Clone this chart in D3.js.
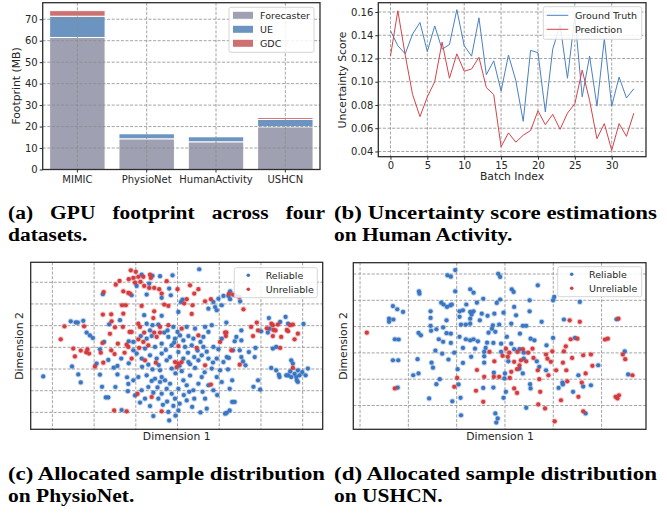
<!DOCTYPE html>
<html>
<head>
<meta charset="utf-8">
<title>Footprint / uncertainty / sample distribution</title>
<style>
  body{ margin:0; background:#fff; }
  svg text{ font-family:"DejaVu Sans",sans-serif; fill:#262626; }
  .grid{ stroke:#8c8c8c; stroke-width:0.8; stroke-dasharray:3,1.6; }
  .cap{ font-family:"Liberation Serif",serif; font-weight:bold; fill:#000 !important; font-size:18.5px; }
</style>
</head>
<body>
<svg id="fig" width="667" height="517"></svg>
<script src="https://cdnjs.cloudflare.com/ajax/libs/d3/7.8.5/d3.min.js"></script>
<script>
// ---------- data (a) ----------
var datasets = ['MIMIC','PhysioNet','HumanActivity','USHCN'];
var parts = ['Forecaster','UE','GDC'];
var forecaster = [61.5, 14.3, 12.9, 19.9];
var ue = [9.9, 2.4, 2.4, 3.4];
var gdc = [2.6, 0.2, 0.2, 0.9];
var footTicks = [0,10,20,30,40,50,60,70];

// ---------- data (b) ----------
var groundTruth = [0.144,0.131,0.124,0.141,0.151,0.126,0.148,0.128,0.132,0.162,0.131,0.122,0.155,0.106,0.118,0.092,
  0.123,0.101,0.066,0.127,0.125,0.074,0.128,0.149,0.103,0.156,0.087,0.122,0.079,0.137,0.079,0.104,0.086,0.094];
var prediction = [0.122,0.161,0.123,0.089,0.070,0.087,0.100,0.134,0.103,0.124,0.109,0.111,0.121,0.095,0.089,0.044,
  0.056,0.048,0.054,0.058,0.075,0.063,0.072,0.059,0.073,0.081,0.110,0.084,0.051,0.064,0.041,0.064,0.053,0.073];
var batchTicks = [0,5,10,15,20,25,30];
var scoreTicks = [0.04,0.06,0.08,0.10,0.12,0.14,0.16];

// ---------- data (c) PhysioNet embedding ----------
var reliableC = [[-17.9,24.5],[-13.8,12.5],[-16.4,10.6],[-25.6,12],[-24.4,11.5],[-23.9,11.4],[-22.6,12.2],[-21.8,6.8],[-21,5.5],[-20.3,4.3],
  [-17.6,2.5],[-11.7,2.8],[-18.6,-0.9],[-13.5,-5.2],[-16.6,-5.8],[-19.4,-7.5],[-14.4,-8.6],[-15.3,-9.4],[-11.7,-7.4],[-25.3,-8.8],
  [-32.2,-13.4],[-23.8,-12.5],[-18.6,-12.6],[-14.4,-12.5],[-12.1,-13.8],[-23.2,-16.2],[-11.8,-16.9],[-18.1,-18.2],[-14.9,-18.3],[-11.9,-20.2],
  [-17.2,-23.1],[-16.6,-23.1],[-13.4,-28.9],
  [-8.6,33.5],[-6,33],[-4.2,32.8],[-1.2,33.2],[5.2,36],[-9.8,28.3],[-6.8,29.4],[-2,27.1],[-1.6,24],[-3.8,22.8],[-11,24],[-7.4,24.3],
  [1.2,22],[0.8,20.9],[8.6,20.9],[9.8,22.4],[11,23.7],[12.2,23.7],[7.4,17.8],[9,18.6],[9.4,17.1],[10.6,19.4],[-8,14.8],[0.2,16.3],[-3.8,14.5],
  [-7.4,10.9],[-6,10.2],[-4.6,10.5],[-1,9.4],[-2.4,7.8],[-6.6,7.8],[-3.2,6.8],[-6.2,5.2],[-10.6,2.5],[-7.4,4],[-8.8,5.2],[-10.6,-1.4],
  [-7.8,-0.6],[-2.2,4.8],[-0.6,4],[0.6,5.5],[1.4,3.2],[2.6,5.2],[3.8,4],[6.2,4.8],[7.4,7.1],[6.6,9.4],[8.2,10.2],[4.2,8.6],[2.2,9.4],
  [0,7.1],[10.6,4],[-3.8,1.7],[-1.4,0.9],[1.8,0.2],[3.4,0.9],[6.2,0.2],[8.6,0.2],[9.8,-0.9],[-5.4,0.2],
  [-9.8,-2.9],[-8.6,-5.2],[-6.6,-3.7],[-5,-5.2],[-3.8,-2.9],[-2.6,-6],[-1.8,-4.5],[1.4,-5.2],[2.6,-6.8],[4,-4.5],[5,-6],[5.8,-3.7],
  [7.4,-5.2],[9.4,-5.2],[11,-6.8],[11.8,-4.5],[-6,-10.2],[-4.2,-10.6],[-1.4,-9.8],[4.2,-9.5],[8.2,-9.8],[10.2,-10.6],
  [-10.6,-15.2],[-9.4,-13.7],[-7.4,-12.9],[-5.4,-14.5],[-3.8,-13.7],[-4.2,-16],[-3,-15.2],[-1.8,-16.8],[-7,-18.3],[-8.6,-19.8],
  [-10.2,-22.2],[-7.8,-23.7],[-5.8,-20.9],[-3.8,-21.4],[-2.6,-19.1],[-1.4,-21.4],[-0.6,-23.7],[0.2,-19.1],[1.4,-15.2],[2.2,-17.5],
  [3.8,-19.8],[5,-16.8],[5.8,-13.7],[7.4,-17.5],[8.6,-19.8],[9.4,-13.7],[10.6,-16],[4,-23.7],[6.6,-23.7],[2.2,-24.5],[-4.6,-23.7],
  [-6.6,-27.1],[0.2,-29.1],[-2.2,-29.8],[-5.8,-31.7],[7,-28.3],[11.4,-30.6],[-2,-33.7],
  [-0.5,-12],[1,-11],[3,-13],[-2.5,-25],[-1,-27],[0.5,-26],[-3.5,-26.5],[1.5,-22],[2.8,-20.5],[-4.8,-18.5],[-6.2,-15.5],[3,-7.8],
  [0.5,-8.5],[-7,-8],[6.5,-11.5],[8.5,-7],[-8.5,-9],[5.5,2.5],[-0.8,2.2],[2.5,-2.5],[-2.8,-1.2],[4.8,-1.5],[7,-2],[0.2,-2.2],
  [-4.5,-8.2],[6,-20.5],[9.5,-22],[-9,-25.5],[3.5,-27.5],[5.5,-30],[-0.5,-31.5],
  [12.6,25.8],[13.9,24],[12.6,22.2],[15,21.2],[11.7,11.4],[15.3,7.8],[14.1,4.8],[13.7,2.8],[15.3,3.2],[13.3,-1.4],[12.3,-4.9],
  [14.9,-1.4],[17.1,-2.2],[15.3,-4.5],[15.7,-6.5],[16.3,-8.3],[18.7,-0.3],[18.5,-4.5],[12.1,-10.2],[13.1,-15.2],[19.3,-15.2],
  [19.8,-19.5],[12.5,-19.1],[13.1,-25.2],[13.7,-25.2],[12.5,-29.1],[18.2,-18.2],[11.8,-30.2],
  [20.05,7.4],[21.9,13.5],[22.05,8.6],[24.6,11.7],[25.9,14],[26.5,10.9],[30.2,10.8],[23.65,0.2],[22.85,-0.6],[21.65,6.8],
  [22.45,-9.5],[23.65,-10.6],[24.45,-13.7],[24.3,-12.6],[26.5,-12.9],[27.25,-6],[27.65,-7.5],[27,-11.1],[28.05,-12.2],[28.85,-10.6],
  [29.25,-12.9],[29.9,-11.4],[30.7,-12.9],[31.25,-9.8],[28.85,-16],[27.25,-13.7],[28.45,-13.7],[28.6,-15.2],[26.05,-12.9]];
var unreliableC = [[-13.9,30.6],[-14.8,28.9],[-13,25.8],[-11.7,31.4],[-11.8,25.1],[-17.7,25.5],[-13.3,19.4],[-12.4,19.4],[-17.9,15.1],
  [-15.9,15.2],[-13,15.5],[-15.8,12],[-15,9.2],[-13.1,9.4],[-11.5,7.1],[-27.1,9.7],[-22.4,9.7],[-28,3.7],[-16.2,6.2],[-18,2],
  [-12.2,1.2],[-14.3,1.7],[-25,-0.6],[-23.2,-1.5],[-21.6,-0.9],[-21.9,-2.3],[-21.2,-2.9],[-24.6,-4.2],[-15.9,-1.4],[-18.4,-2.5],
  [-15.1,-3.1],[-12.7,-2.5],[-17.8,-7.1],[-19.8,-8.8],[-15.2,-29.1],[-12.2,-29.5],
  [-11.2,35.5],[-10,34.8],[-9.4,32.5],[-8.2,32.5],[-10.6,32],[-6.6,33.5],[-6.4,32],[-2.6,30.5],[-10.2,29.8],[-8.9,30.2],[-8,28.3],
  [-6.8,27.4],[-5.6,27.4],[-4.4,26.8],[-3.8,24.8],[-11.4,24.8],[0,26.8],[3,28.6],[5,26.8],[4,24.8],[1.6,20.2],[3.6,19.4],[2.2,22.2],
  [6.6,21.2],[8,22.2],[-8.6,19.1],[-2.2,19.1],[-3.2,19.7],[-5.6,16.6],[3.4,15.4],[-5.8,13.5],
  [-9.4,10.9],[-9,9.4],[-11,7.1],[-4.2,9.4],[-2.2,10.2],[-8,6.8],[-5.6,6.8],[-4.2,6.8],[-5,4.8],[-8.2,2.5],[-9.4,3.7],[-11.8,0.2],
  [-9.2,-0.3],[5,5.5],[1,8.6],[10.2,2.5],[11.4,6.8],[11.6,5.2],[0.2,0.6],[4.6,-0.3],[-7,0.9],
  [-11,-5.2],[-7.8,-6],[-5.2,-7.1],[-0.6,-6.8],[0.2,-7.5],[1,-6.8],[-0.2,-9.1],[6.6,-8.3],[-6.2,-22.9],[-9.6,-21.5],[8,-17.2],[-3.8,-29.5],
  [12.3,24.6],[13.3,24.3],[14.8,23.2],[15.8,17.5],[11.7,6.8],[12.9,-1.4],[14.9,-8],
  [17.65,9.4],[19,11.4],[19.3,7.8],[18.1,5.2],[22.5,10.9],[22.85,10.2],[24.05,10.5],[23.5,7.8],[22.85,5.2],[24.85,4.8],[27,10.2],
  [27.65,10.5],[26.5,7.4],[28.85,6.3],[28.05,3.7],[24.6,-0.3],[27.65,-9.5],[21.4,8.8],[23,8],[26.2,8]];

// ---------- data (d) USHCN embedding ----------
var reliableD = [[-1.9,29.5],[-1.2,29],[-0.3,31.5],[-7.8,23.4],[-7.7,22.5],[-13.2,17.8],[-12.3,16.6],[-11.1,15.6],[-14,13],[-14,11.8],
  [-13.1,12.7],[-3.2,19.1],[-2.7,18.4],[-2,17.5],[-1.3,18.1],[-5.4,15.8],[-5.4,13.3],[-2.1,12.4],[-5.4,10.3],[-5.3,8.4],[-4.2,9],
  [-7.9,7.6],[-7.4,6.7],[-12.8,5.2],[-12,5.1],[-3.7,5.2],[-2.8,4.2],[-1.2,3.8],[-4.4,0.9],[-3,-0.3],[-13.2,-2.8],[-12.1,-2.8],
  [-8.1,-2.4],[-1.7,-2.5],[-5.2,-3.7],[-4.9,-5.6],[-9,-8.5],[-7.9,-7.8],[-3.5,-10],[-4.2,-11.9],[-12.2,-13.2],[-5.7,-17.3],[-0.9,-18.4],
  [-2.8,9.7],[-2.1,7.5],[0.4,-12],
  [8.6,30.1],[9,28.9],[2.8,24.2],[3.5,22.9],[16.8,25.7],[-0.3,23.4],[11.4,24.2],[11.8,23.2],[5.5,20.6],[4.2,19.1],[2,18.4],[8.3,19],
  [9,20.3],[15.1,20],[-1,18.4],[0.6,15.8],[1.3,16.2],[2.8,15.6],[3.5,15.8],[3.1,14.6],[2.8,13],[5.2,14.9],[6.4,14.1],[7.8,14.9],
  [9.7,15.3],[11.9,17.5],[12.3,14.3],[15.1,15.8],[17.6,11.8],[4.8,12.4],[11.3,11.1],[0.9,10.8],[1.9,10.8],[2.8,11.1],[0.6,13.7],
  [7.5,10.5],[8.8,10.8],[6.6,7.7],[7.3,9.2],[8,8],[13.7,10.3],[14.4,10.3],[13.1,7.3],[-1.2,7.3],[0.6,6.1],[1.9,5.2],[2.8,4.8],
  [3.5,5.2],[4.4,4.4],[6.3,3.9],[7.6,3.8],[9.2,3.5],[10.4,6.1],[11.3,3.5],[15.3,5.4],[16.1,4.8],[18.6,2.9],[6,1.9],[3.8,1.6],
  [1.3,1.9],[-0.5,0.1],[5.7,0.4],[11.9,1.4],[13,1.4],[13.9,0.1],[9.2,0.4],[3,-1.5],[5.7,-1.3],[5.7,-3.7],[10.7,-3.2],[13.9,-2.2],
  [16.6,-3.2],[13,-6],[1.3,-3.8],[0.2,-6.2],[7.7,-7.5],[10,-7.8],[13.7,-7.8],[9.9,-9.7],[17.1,-5.3],[18.5,-6.6],[5.5,-13.3],
  [7.6,-13.2],[15.2,-11.9],[15.3,-13.5],[10.2,-14.8],[0.8,-17.1],[9.7,-17.1],[14.4,-20.9],[0.9,-23.7],[8,-23],[8.5,-24.9],[8.2,-26.5],
  [20.2,21.3],[19.96,20],[25.5,19.4],[22.2,12.7],[33.1,12.8],[19.96,5.7],[24.5,5.7],[34.8,0.6],[29.3,-4.7],[25.2,-8.5],[35.5,-8.2],
  [21.9,-11.3],[22,-12],[26.2,-12.8],[27.8,-12.3],[21.1,-13.3],[24.1,-14.8],[26.7,-23]];
var unreliableD = [[-18.6,7.7],[-12.8,-13.5],
  [6.8,0.4],[10.2,1.6],[10.9,0.1],[12.6,0.4],[13.7,1.4],[14.8,0.1],[15.7,1.6],[9.5,-1.1],[10.6,-1.5],[18.5,-0.6],[18.8,-2.2],
  [7.8,-3.2],[11.9,-3.4],[13.3,-2.8],[14.4,-3.2],[15.9,-1.9],[13,-4.7],[12.5,-6.2],[4.2,-6.5],[11.3,-7.2],[5.7,-9.1],[7.7,-9.1],
  [8.8,-9.1],[11,-9.5],[16.8,-6.6],[17.1,-10],[19,-8.5],[0.1,-9.5],[-0.5,-12.9],[4,-14.4],[11.9,-13.5],[12.5,-15.2],[17.3,-14.8],
  [5.5,-18.6],[16.9,-19.6],[18.3,-21.1],
  [23.4,12.4],[25.5,11.8],[33.5,13],[23.6,5.2],[25,5.4],[30.7,5.1],[31.3,5.4],[19.8,0.6],[22.2,0.6],[22.6,2.5],[34.4,-0.6],
  [34.9,-2.4],[19.5,-3.4],[22,-3.7],[23.9,-1.9],[26.2,-0.9],[27.8,-0.6],[20.6,-6.6],[22.7,-6.6],[28.1,-4.9],[26.7,-7.8],[36.4,-8.5],
  [22.9,-10.8],[25.9,-11.3],[25.2,-16.7],[32.9,-16.7],[33.3,-17.3],[33.6,-16.1],[21.6,-18],[26.2,-22.2],[20.3,-26]];
var dimTicksC = [-30,-20,-10,0,10,20,30];
var dimTicksDx = [-20,-10,0,10,20,30];
var dimTicksDy = [-20,-10,0,10,20,30];

// ---------- colours ----------
var partColors = ['#a0a0b3','#6b95c0','#cd7070'];
var BLUE = '#4a80c2', RED = '#d6434a';
var DOT_BLUE = '#3a76c2', DOT_RED = '#d43c3f';

var svg = d3.select('#fig');
svg.append('rect').attr('width',667).attr('height',517).attr('fill','#fff');

function panel(x0, y0){
	return svg.append('g').attr('transform','translate('+x0+','+y0+')');
}
function gridV(g, x, vals, h){
	g.append('g').selectAll('line').data(vals).enter().append('line').attr('class','grid')
		.attr('x1',function(d){ return x(d); }).attr('x2',function(d){ return x(d); })
		.attr('y1',0).attr('y2',h);
}
function gridH(g, y, vals, w){
	g.append('g').selectAll('line').data(vals).enter().append('line').attr('class','grid')
		.attr('y1',function(d){ return y(d); }).attr('y2',function(d){ return y(d); })
		.attr('x1',0).attr('x2',w);
}
function frame(g, w, h){
	g.append('rect').attr('width',w).attr('height',h).attr('fill','none')
		.attr('stroke','#2e2e2e').attr('stroke-width',1.3);
}
function styleAxis(a){
	a.select('.domain').remove();
	a.selectAll('.tick line').attr('stroke','#2e2e2e').attr('stroke-width',1);
	a.selectAll('.tick text').style('font-size','10px').attr('fill','#262626');
}
function axisLabel(x, y, txt, rot){
	var t = svg.append('text').attr('text-anchor','middle').style('font-size','10.8px').text(txt);
	if(rot){ t.attr('transform','translate('+x+','+y+') rotate(-90)'); }
	else { t.attr('x',x).attr('y',y); }
}
function legendBox(x, y, w, h){
	svg.append('rect').attr('x',x).attr('y',y).attr('width',w).attr('height',h).attr('rx',2)
		.attr('fill','#fff').attr('fill-opacity',0.85).attr('stroke','#cccccc').attr('stroke-width',0.8);
}

// ================= (a) stacked bars =================
var A = { x:42.7, y:2.7, w:277.3, h:166.8 };
var ga = panel(A.x, A.y);
var xa = d3.scaleBand().domain(datasets).range([0, A.w]).paddingInner(0.2).paddingOuter(0.1);
var ya = d3.scaleLinear().domain([0, 77.7]).range([A.h, 0]);
var rows = datasets.map(function(d, i){ return { name:d, Forecaster:forecaster[i], UE:ue[i], GDC:gdc[i] }; });
var series = d3.stack().keys(parts)(rows);
ga.selectAll('g.layer').data(series).enter().append('g').attr('class','layer')
	.attr('fill',function(d, i){ return partColors[i]; })
	.selectAll('rect').data(function(d){ return d; }).enter().append('rect')
	.attr('x',function(d){ return xa(d.data.name); })
	.attr('width',xa.bandwidth())
	.attr('y',function(d){ return ya(d[1]); })
	.attr('height',function(d){ return ya(d[0]) - ya(d[1]); })
	.attr('stroke','#fff').attr('stroke-width',1);
gridV(ga, function(d){ return xa(d) + xa.bandwidth()/2; }, datasets, A.h);
gridH(ga, ya, footTicks, A.w);
frame(ga, A.w, A.h);
styleAxis(ga.append('g').call(d3.axisLeft(ya).tickValues(footTicks).tickSize(3).tickPadding(2)));
styleAxis(ga.append('g').attr('transform','translate(0,'+A.h+')')
	.call(d3.axisBottom(xa).tickSize(3).tickPadding(3)));
axisLabel(20, 86, 'Footprint (MB)', true);

legendBox(229, 7.3, 85, 45);
parts.forEach(function(p, i){
	var yy = 15.3 + i*14;
	svg.append('rect').attr('x',233).attr('y',yy-3.5).attr('width',20).attr('height',7).attr('fill',partColors[i]);
	svg.append('text').attr('x',260).attr('y',yy+3.4).style('font-size','9.5px').text(p);
});

// ================= (b) lines =================
var B = { x:378.3, y:2.7, w:267.7, h:154 };
var gb = panel(B.x, B.y);
var xb = d3.scaleLinear().domain([-1.65, 34.65]).range([0, B.w]);
var yb = d3.scaleLinear().domain([0.0355, 0.168]).range([B.h, 0]);
gridV(gb, xb, batchTicks, B.h);
gridH(gb, yb, scoreTicks, B.w);
var line = d3.line().x(function(d, i){ return xb(i); }).y(function(d){ return yb(d); });
gb.append('path').datum(groundTruth).attr('d',line).attr('fill','none').attr('stroke',BLUE).attr('stroke-width',1);
gb.append('path').datum(prediction).attr('d',line).attr('fill','none').attr('stroke',RED).attr('stroke-width',1);
frame(gb, B.w, B.h);
styleAxis(gb.append('g').call(d3.axisLeft(yb).tickValues(scoreTicks).tickFormat(d3.format('.2f')).tickSize(3).tickPadding(2)));
styleAxis(gb.append('g').attr('transform','translate(0,'+B.h+')')
	.call(d3.axisBottom(xb).tickValues(batchTicks).tickSize(3).tickPadding(2)));
axisLabel(346, 80, 'Uncertainty Score', true);
axisLabel(512, 180, 'Batch Index', false);

legendBox(543.3, 6.7, 98.4, 32.6);
[['Ground Truth', BLUE], ['Prediction', RED]].forEach(function(e, i){
	var yy = 15.3 + i*14;
	svg.append('line').attr('x1',546.7).attr('x2',568.3).attr('y1',yy).attr('y2',yy).attr('stroke',e[1]).attr('stroke-width',1);
	svg.append('text').attr('x',575).attr('y',yy+3.4).style('font-size','9.5px').text(e[0]);
});

// ================= (c) & (d) scatter =================
function scatter(P, xDom, yDom, xt, yt, rel, unrel, lx, ly, lw){
	var g = panel(P.x, P.y);
	var x = d3.scaleLinear().domain(xDom).range([0, P.w]);
	var y = d3.scaleLinear().domain(yDom).range([P.h, 0]);
	gridV(g, x, xt, P.h);
	gridH(g, y, yt, P.w);
	[[rel, DOT_BLUE], [unrel, DOT_RED]].forEach(function(s){
		g.append('g').selectAll('circle').data(s[0]).enter().append('circle')
			.attr('cx',function(d){ return x(d[0]); }).attr('cy',function(d){ return y(d[1]); })
			.attr('r',2.1).attr('fill',s[1])
			.attr('stroke',s[1]).attr('stroke-opacity',0.28).attr('stroke-width',1.8);
	});
	frame(g, P.w, P.h);
	legendBox(lx, ly, lw, 30);
	[['Reliable', DOT_BLUE], ['Unreliable', DOT_RED]].forEach(function(e, i){
		var yy = ly + 7.6 + i*14;
		svg.append('circle').attr('cx',lx+14).attr('cy',yy).attr('r',1.8).attr('fill',e[1]);
		svg.append('text').attr('x',lx+31.4).attr('y',yy+3.4).style('font-size','9.5px').text(e[0]);
	});
}
scatter({ x:30.7, y:262.3, w:292, h:167 }, [-35.2, 34.8], [-37.8, 39.2], dimTicksC, dimTicksC,
	reliableC, unreliableC, 234.3, 267.7, 83);
axisLabel(176.7, 440, 'Dimension 1', false);
axisLabel(23, 346, 'Dimension 2', true);

scatter({ x:353.3, y:262.7, w:292.7, h:166.6 }, [-21.4, 39.2], [-29.05, 34.3], dimTicksDx, dimTicksDy,
	reliableD, unreliableD, 557.7, 266.7, 84);
axisLabel(500, 440, 'Dimension 1', false);
axisLabel(346.7, 346, 'Dimension 2', true);

// ================= captions =================
// caption font is narrower than the original, so glyphs are widened a little
var CAP_STRETCH = 1.16;
function capLine(x, y, txt, width, justify){
	if(justify){
		var words = txt.split(' ');
		var nodes = words.map(function(w){ return svg.append('text').attr('class','cap').attr('y',y).text(w); });
		var lens = nodes.map(function(n){
			var l = n.node().getComputedTextLength() * CAP_STRETCH;
			n.attr('textLength', l).attr('lengthAdjust','spacingAndGlyphs');
			return l;
		});
		var gap = (width - d3.sum(lens)) / (words.length - 1);
		var cx = x;
		nodes.forEach(function(n, i){ n.attr('x',cx); cx += lens[i] + gap; });
		return;
	}
	var t = svg.append('text').attr('class','cap').attr('x',x).attr('y',y).text(txt);
	var w = width || t.node().getComputedTextLength() * CAP_STRETCH;
	t.attr('textLength',w).attr('lengthAdjust','spacingAndGlyphs');
}
capLine(8, 219, '(a) GPU footprint across four', 317, true);
capLine(8, 241, 'datasets.', 0, false);
capLine(334, 219, '(b) Uncertainty score estimations', 323, false);
capLine(334, 241, 'on Human Activity.', 0, false);
capLine(8, 480, '(c) Allocated sample distribution', 317, false);
capLine(8, 502, 'on PhysioNet.', 0, false);
capLine(334, 480, '(d) Allocated sample distribution', 323, false);
capLine(334, 502, 'on USHCN.', 0, false);
</script>
</body>
</html>
